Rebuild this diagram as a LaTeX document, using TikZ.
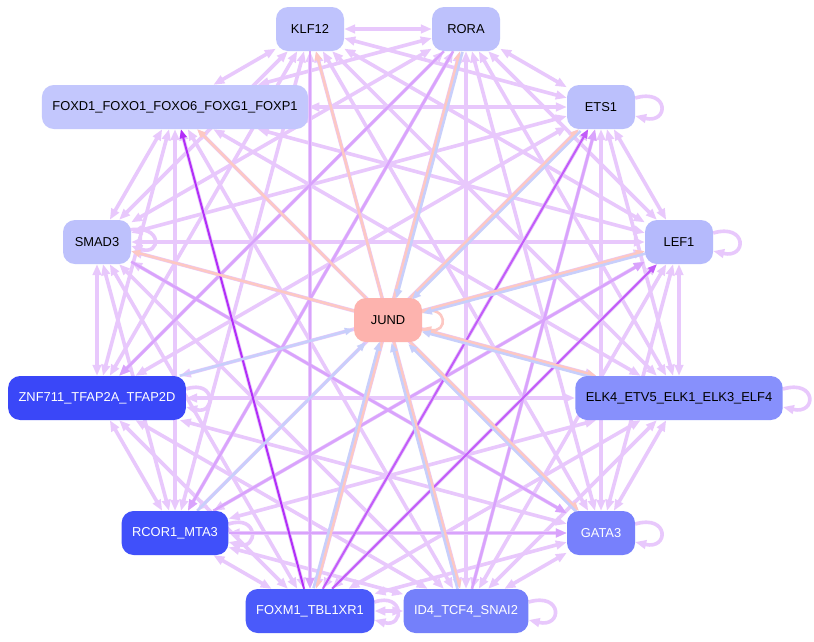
\documentclass[tikz,border=0pt]{standalone}
\usepackage{fontspec}
\setmainfont{Liberation Sans}
\usetikzlibrary{arrows.meta,calc}
\pgfdeclarelayer{bg}
\pgfsetlayers{bg,main}
\definecolor{lpc}{HTML}{E8C8FC}
\definecolor{mpc}{HTML}{D9A3FC}
\definecolor{dpc}{HTML}{C25CF9}
\definecolor{ddpc}{HTML}{B22EF8}
\definecolor{pkc}{HTML}{FDC8C3}
\definecolor{blc}{HTML}{C8CFFB}
\definecolor{cKLF}{HTML}{BFC3FD}
\definecolor{cRORA}{HTML}{BDC1FC}
\definecolor{cFOX}{HTML}{C3C7FD}
\definecolor{cETS}{HTML}{BBC0FC}
\definecolor{cSMAD}{HTML}{BDC1FC}
\definecolor{cLEF}{HTML}{B5BAFC}
\definecolor{cJUND}{HTML}{FDB3AE}
\definecolor{cZNF}{HTML}{3A47F8}
\definecolor{cELK}{HTML}{8790FC}
\definecolor{cRCOR}{HTML}{4050FA}
\definecolor{cGATA}{HTML}{7780FC}
\definecolor{cFOXM}{HTML}{4A5AFA}
\definecolor{cID}{HTML}{7480FA}
\begin{document}
\begin{tikzpicture}[x=1pt,y=-1pt,
  nd/.style={rounded corners=12pt,minimum width=68pt,minimum height=44pt,
    inner xsep=10.5pt,inner ysep=0pt,font=\fontsize{12.9}{15}\selectfont,text=black},
  wt/.style={text=white},
  tipa/.tip={Triangle[length=11pt,width=8.5pt]},
  tipb/.tip={Triangle[length=9pt,width=7pt]},
  lp/.style={draw=lpc,line width=3.6pt,{tipa}-{tipa}},
  lpo/.style={draw=lpc,line width=3.6pt,-{tipa}},
  mp/.style={draw=mpc,line width=2.6pt,-{tipa}},
  dp/.style={draw=dpc,line width=2pt,-{tipb}},
  ddp/.style={draw=ddpc,line width=2pt,-{tipb}},
  pk/.style={draw=pkc,line width=2.6pt,-{tipb}},
  bl/.style={draw=blc,line width=2.6pt,-{tipb}}]
\useasboundingbox (0,0) rectangle (814,641);

\node[nd,fill=cKLF]  (klf)  at (310,29)  {KLF12};
\node[nd,fill=cRORA] (rora) at (466,29)  {RORA};
\node[nd,fill=cFOX]  (fox)  at (175,107) {FOXD1\_FOXO1\_FOXO6\_FOXG1\_FOXP1};
\node[nd,fill=cETS]  (ets)  at (601,107) {ETS1};
\node[nd,fill=cSMAD] (smad) at (97,242)  {SMAD3};
\node[nd,fill=cLEF]  (lef)  at (679,242) {LEF1};
\node[nd,fill=cJUND] (jund) at (388,320) {JUND};
\node[nd,fill=cZNF,wt]  (znf)  at (97,398)  {ZNF711\_TFAP2A\_TFAP2D};
\node[nd,fill=cELK]  (elk)  at (679,398) {ELK4\_ETV5\_ELK1\_ELK3\_ELF4};
\node[nd,fill=cRCOR,wt] (rcor) at (175,533) {RCOR1\_MTA3};
\node[nd,fill=cGATA,wt] (gata) at (601,533) {GATA3};
\node[nd,fill=cFOXM,wt] (foxm) at (310,611) {FOXM1\_TBL1XR1};
\node[nd,fill=cID,wt]   (id4)  at (466,611) {ID4\_TCF4\_SNAI2};

\begin{pgfonlayer}{bg}
\fill[white] (0,0) rectangle (814,641);
% light purple network
\foreach \a/\b in {klf/rora,klf/fox,klf/ets,klf/smad,klf/lef,klf/znf,klf/elk,klf/rcor,klf/gata,klf/foxm,klf/id4,
  rora/fox,rora/ets,rora/smad,rora/lef,rora/znf,rora/elk,rora/rcor,rora/gata,rora/foxm,rora/id4,
  fox/ets,fox/smad,fox/lef,fox/znf,fox/elk,fox/rcor,fox/gata,fox/foxm,fox/id4,
  ets/smad,ets/lef,ets/znf,ets/elk,ets/rcor,ets/gata,ets/foxm,ets/id4,
  smad/lef,smad/znf,smad/elk,smad/rcor,smad/gata,smad/foxm,smad/id4,
  lef/znf,lef/elk,lef/rcor,lef/gata,lef/foxm,lef/id4,
  znf/elk,znf/rcor,znf/gata,znf/foxm,znf/id4,
  elk/rcor,elk/gata,elk/foxm,elk/id4,
  rcor/gata,rcor/foxm,rcor/id4,
  gata/foxm,gata/id4,foxm/id4}
  \draw[lp] (\a) -- (\b);
% self loops
\draw[lpo] ($(ets.east)+(0,-9)$) .. controls +(34,-10) and +(34,8) .. ($(ets.east)+(0,9)$);
\draw[lpo] ($(lef.east)+(0,-9)$) .. controls +(34,-10) and +(34,8) .. ($(lef.east)+(0,9)$);
\draw[lpo] ($(smad.east)+(-2,-12)$) .. controls +(34,-6) and +(30,10) .. ($(smad.east)+(0,4)$);
\draw[lpo] ($(elk.east)+(0,-9)$) .. controls +(34,-10) and +(34,8) .. ($(elk.east)+(0,9)$);
\draw[lpo] ($(gata.east)+(0,-9)$) .. controls +(34,-10) and +(34,8) .. ($(gata.east)+(0,9)$);
\draw[lpo] ($(id4.east)+(0,-9)$) .. controls +(34,-10) and +(34,8) .. ($(id4.east)+(0,9)$);
\draw[lpo] ($(foxm.east)+(0,-9)$) .. controls +(30,-10) and +(30,8) .. ($(foxm.east)+(0,9)$);
\draw[lpo] ($(rcor.east)+(0,-9)$) .. controls +(30,-10) and +(30,8) .. ($(rcor.east)+(0,9)$);
\draw[lpo] ($(znf.east)+(0,-9)$) .. controls +(30,-10) and +(30,8) .. ($(znf.east)+(0,9)$);
% medium purple
\draw[mp] (klf) -- (foxm);
\draw[mp] (rora) -- (rcor);
\draw[mp] (rcor) -- (gata);
\draw[mp] (smad) -- (gata);
\draw[mp] (id4) -- (ets);
\draw[mp] (rcor) -- (lef);
\draw[mp] (rora) -- (znf);
% dark purple
\draw[dp] (foxm) -- (ets);
\draw[dp] (foxm) -- (lef);
\draw[ddp] (foxm) -- (fox);
% pink: from JUND
\foreach \t in {klf,fox,smad,rora,ets,lef,elk,gata,id4,foxm}
  \draw[pk] (jund) -- (\t);
\draw[pk] ($(jund.east)+(0,-8)$) .. controls +(26,-8) and +(26,6) .. ($(jund.east)+(0,8)$);
% blue: to JUND
\draw[bl,transform canvas={shift={(2.4,0.7)}}] (rora) -- (jund);
\draw[bl,transform canvas={shift={(1.8,1.8)}}] (ets) -- (jund);
\draw[bl,transform canvas={shift={(0.7,2.4)}}] (lef) -- (jund);
\draw[bl,transform canvas={shift={(-0.7,2.4)}}] (elk) -- (jund);
\draw[bl,transform canvas={shift={(-1.8,1.8)}}] (gata) -- (jund);
\draw[bl,transform canvas={shift={(-2.4,0.7)}}] (id4) -- (jund);
\draw[bl,transform canvas={shift={(-2.4,-0.7)}}] (foxm) -- (jund);
\draw[bl] (rcor) -- (jund);
\draw[bl] (znf) -- (jund);
\end{pgfonlayer}
\end{tikzpicture}
\end{document}
